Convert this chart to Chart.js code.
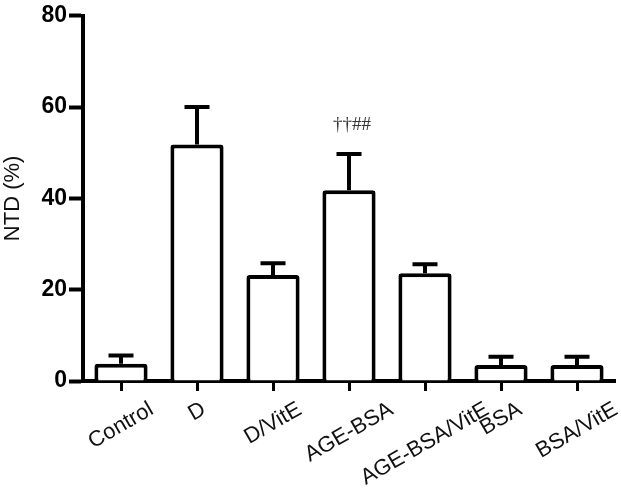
<!DOCTYPE html>
<html>
<head>
<meta charset="utf-8">
<script src="https://cdn.jsdelivr.net/npm/chart.js@4.4.1/dist/chart.umd.min.js"></script>
<style>
  html, body { margin: 0; padding: 0; background: #fff; }
  #wrap { width: 621px; height: 489px; }
</style>
</head>
<body>
<div id="wrap"><canvas id="ntdChart" width="621" height="489"></canvas></div>
<script>
// values (mean and top of error bar, % NTD)
let groups = ["Control", "D", "D/VitE", "AGE-BSA", "AGE-BSA/VitE", "BSA", "BSA/VitE"];
let means = [3.8, 51.8, 23.2, 41.8, 23.6, 3.5, 3.5];
let errTops = [5.6, 60.0, 25.8, 49.7, 25.6, 5.3, 5.3];
let marks = ["", "", "", "\u2020\u2020##", "", "", ""];
let yTicks = [0, 20, 40, 60, 80];

let labelFont = "22px 'Liberation Sans', Arial";
let labelAngle = 30 * Math.PI / 180;

// error bars + significance marks drawn on top of the bars
let errorBars = {
  id: "errorBars",
  afterDatasetsDraw(chart) {
    let ctx = chart.ctx;
    let x = chart.scales.x;
    let y = chart.scales.y;
    ctx.save();
    ctx.strokeStyle = "#000";
    ctx.lineWidth = 4;
    groups.forEach((g, i) => {
      let cx = x.getPixelForValue(i);
      let yTop = y.getPixelForValue(means[i]);
      let yErr = y.getPixelForValue(errTops[i]);
      ctx.beginPath();
      ctx.moveTo(cx, yTop);
      ctx.lineTo(cx, yErr);
      ctx.moveTo(cx - 12.5, yErr);
      ctx.lineTo(cx + 12.5, yErr);
      ctx.stroke();
      if (marks[i]) {
        ctx.fillStyle = "#333";
        ctx.font = "19px 'Liberation Serif', serif";
        ctx.textAlign = "center";
        ctx.textBaseline = "middle";
        ctx.fillText(marks[i], cx + 3, yErr - 29);
      }
    });
    ctx.restore();
  }
};

// rotated category labels, box centred under each tick (Prism style)
let catLabels = {
  id: "catLabels",
  afterDraw(chart) {
    let ctx = chart.ctx;
    let x = chart.scales.x;
    let top = x.top + 20;
    ctx.save();
    ctx.font = labelFont;
    ctx.fillStyle = "#111";
    ctx.textAlign = "center";
    ctx.textBaseline = "middle";
    groups.forEach((g, i) => {
      let w = ctx.measureText(g).width;
      let h = 16;
      let boxH = w * Math.sin(labelAngle) + h * Math.cos(labelAngle);
      ctx.save();
      ctx.translate(x.getPixelForValue(i), top + boxH / 2);
      ctx.rotate(-labelAngle);
      ctx.fillText(g, 0, 0);
      ctx.restore();
    });
    ctx.restore();
  }
};

let ctx = document.getElementById("ntdChart").getContext("2d");

let data = {
  labels: groups,
  datasets: [
    {
      label: "NTD",
      data: means,
      backgroundColor: "#fff",
      borderColor: "#000",
      borderWidth: 4,
      borderRadius: 3,
      categoryPercentage: 1.0,
      barPercentage: 0.7,
    },
  ],
};

let options = {
  responsive: false,
  animation: false,
  layout: { padding: { top: 15, right: 6, left: 0, bottom: 0 } },
  plugins: {
    legend: { display: false },
    tooltip: { enabled: false },
  },
  scales: {
    x: {
      grid: {
        offset: false,
        drawOnChartArea: false,
        drawTicks: true,
        tickLength: 10,
        tickWidth: 3,
        tickColor: "#000",
      },
      border: { display: true, color: "#000", width: 4 },
      ticks: { display: false, autoSkip: false },
      afterFit(scale) {
        scale.height = 108;
      },
    },
    y: {
      min: 0,
      max: 80,
      afterBuildTicks(scale) {
        scale.ticks = yTicks.map((v) => ({ value: v }));
      },
      grid: {
        drawOnChartArea: false,
        drawTicks: true,
        tickLength: 14,
        tickWidth: 4,
        tickColor: "#000",
      },
      border: { display: true, color: "#000", width: 4 },
      ticks: {
        color: "#000",
        font: { family: "'Liberation Sans', Arial", size: 23, weight: "bold" },
        padding: 2,
      },
      title: {
        display: true,
        text: "NTD (%)",
        color: "#111",
        font: { family: "'Liberation Sans', Arial", size: 22 },
        padding: { top: 0, bottom: 0 },
      },
      afterFit(scale) {
        scale.width = 83;
      },
    },
  },
};

let ntdChart = new Chart(ctx, {
  type: "bar",
  data: data,
  options: options,
  plugins: [errorBars, catLabels],
});
</script>
</body>
</html>
